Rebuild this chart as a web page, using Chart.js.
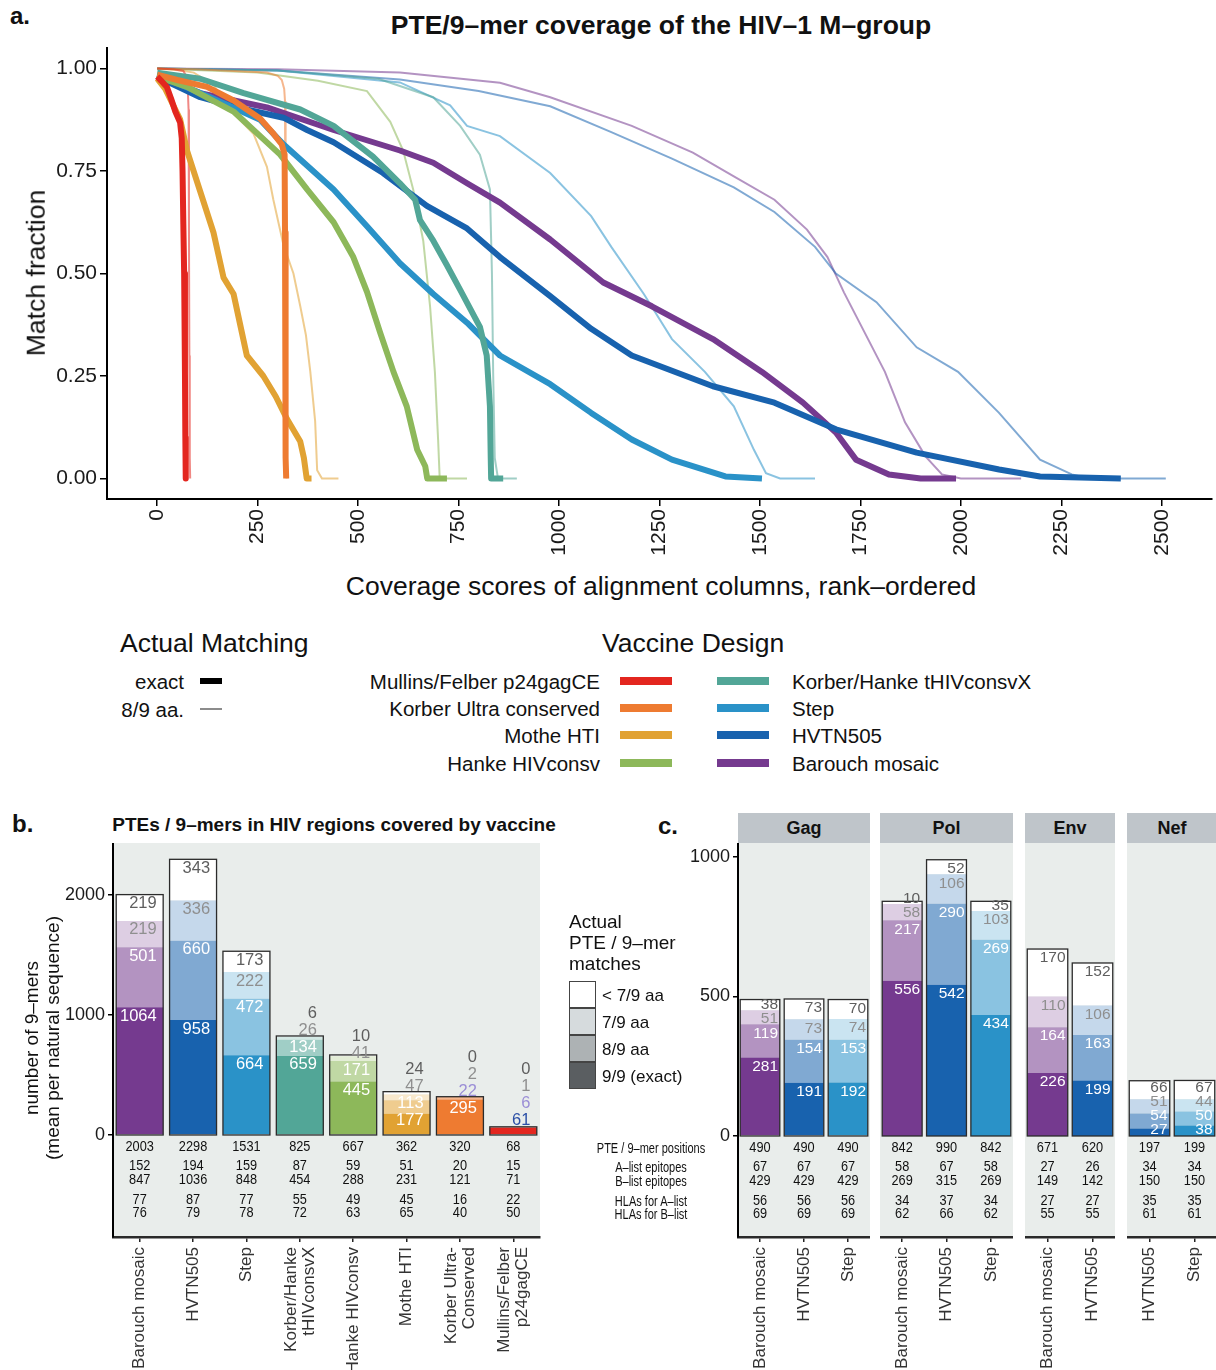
<!DOCTYPE html>
<html lang="en">
<head>
  <meta charset="UTF-8">
  <title>PTE/9-mer coverage of the HIV-1 M-group</title>
  <script src="https://cdn.jsdelivr.net/npm/chart.js"></script>
  <style>
    body {
      margin: 0;
      width: 1216px;
      height: 1370px;
      position: relative;
      overflow: hidden;
      background: #fff;
      color: #111;
      font-family: 'Liberation Sans', Arial, sans-serif;
    }
    canvas { position: absolute; }
    .txt { position: absolute; white-space: nowrap; line-height: 1; }
    .strip {
      position: absolute; top: 813px; height: 30px; background: #bfc5ca;
      font-weight: bold; font-size: 18px; display: flex; align-items: center; justify-content: center;
    }
    .swatch { position: absolute; }
  </style>
</head>
<body>
  <canvas id="chartA" width="1216" height="530" style="left:0;top:40px"></canvas>
  <canvas id="chartB" width="560" height="527" style="left:0;top:843px"></canvas>
  <canvas id="chartGag" width="310" height="527" style="left:560px;top:843px"></canvas>
  <canvas id="chartPol" width="133" height="527" style="left:880px;top:843px"></canvas>
  <canvas id="chartEnv" width="90" height="527" style="left:1025px;top:843px"></canvas>
  <canvas id="chartNef" width="90" height="527" style="left:1127px;top:843px"></canvas>

  <div class="strip" style="left:738px;width:132px">Gag</div>
  <div class="strip" style="left:880px;width:133px">Pol</div>
  <div class="strip" style="left:1025px;width:90px">Env</div>
  <div class="strip" style="left:1127px;width:90px">Nef</div>

  <script>
    // ---- panel a: coverage curves, [rank, match fraction] ----
    const coverageTicks = [0, 250, 500, 750, 1000, 1250, 1500, 1750, 2000, 2250, 2500];
    const matchTicks = [0, 0.25, 0.5, 0.75, 1];

    const mullinsExact = [[0,0.98],[10,0.97],[24,0.955],[35,0.925],[45,0.895],[57,0.868],[61,0.83],[63,0.75],[65,0.62],[67,0.5],[69,0.26],[70,0.1],[71,0]];
    const mullinsNear = [[0,1.0],[40,0.998],[65,0.994],[72,0.982],[76,0.95],[78,0.9],[79,0.6],[80,0.3],[81,0.05],[82,0]];
    const ultraExact = [[0,0.985],[50,0.972],[124,0.955],[190,0.922],[256,0.878],[290,0.84],[310,0.815],[317,0.79],[318,0.6],[319,0.3],[320,0.05],[321,0]];
    const ultraNear = [[0,1.0],[100,0.998],[190,0.994],[273,0.99],[300,0.982],[310,0.972],[316,0.95],[318,0.92],[319,0.7],[320,0.4],[321,0.1],[322,0]];
    const motheExact = [[0,0.975],[20,0.95],[45,0.9],[57,0.876],[74,0.8],[107,0.7],[140,0.6],[165,0.49],[190,0.45],[223,0.3],[264,0.25],[295,0.2],[323,0.145],[356,0.09],[365,0.05],[372,0],[384,0]];
    const motheNear = [[0,1.0],[60,0.995],[91,0.99],[140,0.96],[190,0.89],[240,0.84],[273,0.76],[289,0.68],[314,0.57],[339,0.5],[356,0.42],[370,0.35],[381,0.26],[393,0.14],[398,0.02],[410,0],[451,0]];
    const hankeExact = [[0,0.98],[74,0.955],[190,0.895],[306,0.79],[373,0.705],[439,0.625],[488,0.54],[522,0.455],[555,0.355],[588,0.26],[621,0.176],[647,0.07],[667,0.03],[672,0],[721,0]];
    const hankeNear = [[0,1.0],[250,0.99],[400,0.97],[522,0.945],[580,0.87],[612,0.8],[637,0.705],[662,0.58],[679,0.42],[691,0.26],[699,0.095],[703,0],[771,0]];
    const tconsvExact = [[0,0.99],[107,0.975],[215,0.94],[356,0.9],[439,0.86],[537,0.785],[604,0.72],[642,0.68],[654,0.63],[687,0.58],[721,0.52],[754,0.46],[803,0.37],[820,0.3],[828,0.176],[830,0.05],[831,0],[861,0]];
    const tconsvNear = [[0,1.0],[300,0.995],[550,0.975],[687,0.93],[754,0.86],[803,0.79],[828,0.705],[833,0.5],[836,0.26],[840,0.05],[848,0],[895,0]];
    const stepExact = [[0,0.985],[60,0.96],[132,0.93],[256,0.875],[314,0.815],[439,0.705],[522,0.615],[604,0.525],[687,0.45],[771,0.38],[853,0.3],[978,0.23],[1080,0.16],[1181,0.095],[1281,0.046],[1414,0.005],[1505,0]];
    const stepNear = [[0,1.0],[300,0.995],[604,0.966],[729,0.91],[771,0.86],[853,0.835],[978,0.745],[1080,0.64],[1130,0.565],[1211,0.45],[1281,0.34],[1363,0.26],[1435,0.176],[1485,0.07],[1515,0.013],[1550,0],[1637,0]];
    const hvtnExact = [[0,0.98],[107,0.93],[200,0.905],[314,0.88],[373,0.85],[439,0.82],[562,0.745],[671,0.665],[771,0.61],[853,0.54],[978,0.445],[1080,0.365],[1181,0.3],[1383,0.225],[1536,0.185],[1689,0.12],[1890,0.063],[2095,0.022],[2197,0.005],[2398,0]];
    const hvtnNear = [[0,1.0],[300,0.995],[604,0.973],[800,0.945],[978,0.908],[1130,0.845],[1281,0.78],[1435,0.71],[1536,0.65],[1637,0.565],[1689,0.5],[1790,0.43],[1890,0.32],[1993,0.26],[2095,0.16],[2197,0.046],[2276,0.01],[2320,0],[2510,0]];
    const barouchExact = [[0,0.98],[107,0.94],[273,0.905],[439,0.85],[604,0.8],[687,0.77],[771,0.72],[853,0.673],[978,0.583],[1110,0.478],[1231,0.42],[1383,0.34],[1505,0.26],[1607,0.185],[1689,0.112],[1739,0.046],[1821,0.01],[1900,0],[1988,0]];
    const barouchNear = [[0,1.0],[300,0.998],[604,0.99],[853,0.965],[978,0.93],[1181,0.86],[1333,0.795],[1435,0.737],[1536,0.68],[1617,0.607],[1668,0.54],[1709,0.454],[1769,0.34],[1811,0.26],[1861,0.137],[1912,0.054],[1953,0.01],[2000,0],[2150,0]];

    // ---- panel b: whole-vaccine counts ----
    const bVaccines = ['Barouch mosaic', 'HVTN505', 'Step', 'Korber/Hanke tHIVconsvX', 'Hanke HIVconsv', 'Mothe HTI', 'Korber Ultra conserved', 'Mullins/Felber p24gagCE'];
    const bLabels = [['Barouch mosaic'], ['HVTN505'], ['Step'], ['Korber/Hanke', 'tHIVconsvX'], ['Hanke HIVconsv'], ['Mothe HTI'], ['Korber Ultra-', 'Conserved'], ['Mullins/Felber', 'p24gagCE']];
    const bExact = [1064, 958, 664, 659, 445, 177, 295, 61];
    const bEight = [501, 660, 472, 134, 171, 113, 22, 6];
    const bSeven = [219, 336, 222, 26, 41, 47, 2, 1];
    const bBelow = [219, 343, 173, 6, 10, 24, 0, 0];
    const bPositions = [2003, 2298, 1531, 825, 667, 362, 320, 68];
    const bAList = [152, 194, 159, 87, 59, 51, 20, 15];
    const bBList = [847, 1036, 848, 454, 288, 231, 121, 71];
    const bHlaA = [77, 87, 77, 55, 49, 45, 16, 22];
    const bHlaB = [76, 79, 78, 72, 63, 65, 40, 50];
    const bTicks = [0, 1000, 2000];

    // ---- panel c: per gene ----
    const gagVaccines = ['Barouch mosaic', 'HVTN505', 'Step'];
    const gagExact = [281, 191, 192];
    const gagEight = [119, 154, 153];
    const gagSeven = [51, 73, 74];
    const gagBelow = [38, 73, 70];
    const gagRows = [[490, 490, 490], [67, 67, 67], [429, 429, 429], [56, 56, 56], [69, 69, 69]];

    const polVaccines = ['Barouch mosaic', 'HVTN505', 'Step'];
    const polExact = [556, 542, 434];
    const polEight = [217, 290, 269];
    const polSeven = [58, 106, 103];
    const polBelow = [10, 52, 35];
    const polRows = [[842, 990, 842], [58, 67, 58], [269, 315, 269], [34, 37, 34], [62, 66, 62]];

    const envVaccines = ['Barouch mosaic', 'HVTN505'];
    const envExact = [226, 199];
    const envEight = [164, 163];
    const envSeven = [110, 106];
    const envBelow = [170, 152];
    const envRows = [[671, 620], [27, 26], [149, 142], [27, 27], [55, 55]];

    const nefVaccines = ['HVTN505', 'Step'];
    const nefExact = [27, 38];
    const nefEight = [54, 50];
    const nefSeven = [51, 44];
    const nefBelow = [66, 67];
    const nefRows = [[197, 199], [34, 34], [150, 150], [35, 35], [61, 61]];
    const cTicks = [0, 500, 1000];

    const designColors = {
      'Mullins/Felber p24gagCE': '#e3261f',
      'Korber Ultra conserved': '#ee7b31',
      'Mothe HTI': '#e1a233',
      'Hanke HIVconsv': '#8db85a',
      'Korber/Hanke tHIVconsvX': '#52a697',
      'Step': '#2a92c8',
      'HVTN505': '#1862ae',
      'Barouch mosaic': '#753a8f'
    };

    const FONT = "'Liberation Sans', Arial, sans-serif";
    Chart.defaults.font.family = FONT;
    Chart.defaults.color = '#1a1a1a';

    function tint(hex, t) {
      const n = parseInt(hex.slice(1), 16);
      const f = c => Math.round(c + (255 - c) * t);
      return `rgb(${f(n >> 16)},${f((n >> 8) & 255)},${f(n & 255)})`;
    }
    function fade(hex, a) {
      const n = parseInt(hex.slice(1), 16);
      return `rgba(${n >> 16},${(n >> 8) & 255},${n & 255},${a})`;
    }

    // text helper for titles / legends
    function addText(str, x, y, opt = {}) {
      const d = document.createElement('div');
      d.className = 'txt';
      d.textContent = str;
      d.style.left = x + 'px';
      d.style.top = y + 'px';
      d.style.fontSize = (opt.size || 18) + 'px';
      if (opt.bold) d.style.fontWeight = 'bold';
      const tx = opt.align === 'right' ? '-100%' : opt.align === 'left' ? '0' : '-50%';
      let tf = `translate(${tx},-50%)`;
      if (opt.rotate) tf += ' rotate(-90deg)';
      if (opt.squeeze) tf += ` scaleX(${opt.squeeze})`;
      d.style.transform = tf;
      document.body.appendChild(d);
    }
    function addSwatch(x, y, w, h, color) {
      const d = document.createElement('div');
      d.className = 'swatch';
      Object.assign(d.style, { left: x + 'px', top: (y - h / 2) + 'px', width: w + 'px', height: h + 'px', background: color });
      document.body.appendChild(d);
      return d;
    }

    // ---- text of panel a ----
    addText('a.', 10, 16, { size: 24, bold: true, align: 'left' });
    addText('PTE/9–mer coverage of the HIV–1 M–group', 661, 25, { size: 26.5, bold: true });
    addText('Match fraction', 36, 273, { size: 26.5, rotate: true });
    addText('Coverage scores of alignment columns, rank–ordered', 661, 586, { size: 26.5 });

    addText('Actual Matching', 120, 643, { size: 26.5, align: 'left' });
    addText('exact', 184, 682, { size: 20.5, align: 'right' });
    addText('8/9 aa.', 184, 710, { size: 20.5, align: 'right' });
    addSwatch(200, 681, 22, 6, '#000');
    addSwatch(200, 709, 22, 2, '#8c8c8c');

    addText('Vaccine Design', 602, 643, { size: 26.5, align: 'left' });
    const legendLeft = ['Mullins/Felber p24gagCE', 'Korber Ultra conserved', 'Mothe HTI', 'Hanke HIVconsv'];
    const legendRight = ['Korber/Hanke tHIVconsvX', 'Step', 'HVTN505', 'Barouch mosaic'];
    const legendRows = [681, 708, 735, 763];
    legendLeft.forEach((name, i) => {
      addText(name, 600, legendRows[i] + 1, { size: 20.5, align: 'right' });
      addSwatch(620, legendRows[i], 52, 8, designColors[name]);
    });
    legendRight.forEach((name, i) => {
      addSwatch(717, legendRows[i], 52, 8, designColors[name]);
      addText(name, 792, legendRows[i] + 1, { size: 20.5, align: 'left' });
    });

    // ---- text of panels b and c ----
    addText('b.', 12, 824, { size: 24, bold: true, align: 'left' });
    addText('PTEs / 9–mers in HIV regions covered by vaccine', 334, 824, { size: 19, bold: true });
    addText('number of 9–mers', 31, 1038, { size: 19, rotate: true });
    addText('(mean per natural sequence)', 52, 1038, { size: 19, rotate: true });

    addText('c.', 658, 826, { size: 24, bold: true, align: 'left' });
    addText('Actual', 569, 921, { size: 19, align: 'left' });
    addText('PTE / 9–mer', 569, 942, { size: 19, align: 'left' });
    addText('matches', 569, 963, { size: 19, align: 'left' });
    const keyNames = ['< 7/9 aa', '7/9 aa', '8/9 aa', '9/9 (exact)'];
    const keyColors = ['#ffffff', '#d6dbdd', '#adb2b4', '#5a5e61'];
    keyNames.forEach((name, i) => {
      const sw = addSwatch(569, 994 + i * 27, 27, 27, keyColors[i]);
      sw.style.boxSizing = 'border-box';
      sw.style.border = '1px solid #444';
      addText(name, 602, 995 + i * 27, { size: 17, align: 'left' });
    });
    const rowNames = ['PTE / 9–mer positions', 'A–list epitopes', 'B–list epitopes', 'HLAs for A–list', 'HLAs for B–list'];
    const rowOffsets = [12, 31, 45, 65, 78];
    rowNames.forEach((name, i) => addText(name, 651, 1136 + rowOffsets[i], { size: 14.5, squeeze: 0.76 }));

    // ---- panel a chart ----
    const curveSets = [
      ['Mullins/Felber p24gagCE', mullinsExact, mullinsNear],
      ['Korber Ultra conserved', ultraExact, ultraNear],
      ['Mothe HTI', motheExact, motheNear],
      ['Hanke HIVconsv', hankeExact, hankeNear],
      ['Korber/Hanke tHIVconsvX', tconsvExact, tconsvNear],
      ['Step', stepExact, stepNear],
      ['HVTN505', hvtnExact, hvtnNear],
      ['Barouch mosaic', barouchExact, barouchNear]
    ];
    const toXY = pts => pts.map(([x, y]) => ({ x, y }));
    const lineSets = [];
    curveSets.forEach(([name, exact]) => lineSets.push({
      label: name + ' exact', data: toXY(exact), borderColor: designColors[name], borderWidth: 6,
      pointRadius: 0, tension: 0, borderJoinStyle: 'round'
    }));
    curveSets.forEach(([name, , near]) => lineSets.push({
      label: name + ' 8/9', data: toXY(near), borderColor: fade(designColors[name], 0.55), borderWidth: 2,
      pointRadius: 0, tension: 0
    }));

    const axisGrid = { drawOnChartArea: false, drawTicks: true, tickLength: 7, color: '#000', lineWidth: 1.5 };
    const axisBorder = { display: true, color: '#000', width: 2 };

    new Chart(document.getElementById('chartA'), {
      type: 'line',
      data: { datasets: lineSets },
      options: {
        responsive: false,
        animation: false,
        layout: { padding: { top: 8, right: 4, left: 0, bottom: 0 } },
        plugins: { legend: { display: false }, tooltip: { enabled: false } },
        scales: {
          x: {
            type: 'linear', min: -125, max: 2625,
            afterBuildTicks: s => { s.ticks = coverageTicks.map(v => ({ value: v })); },
            afterFit: s => { s.height = 71; s.paddingLeft = 0; s.paddingRight = 0; },
            ticks: { minRotation: 90, maxRotation: 90, autoSkip: false, font: { size: 21 }, padding: 3, callback: v => String(v) },
            grid: axisGrid, border: axisBorder
          },
          y: {
            min: -0.05, max: 1.05,
            afterBuildTicks: s => { s.ticks = matchTicks.map(v => ({ value: v })); },
            afterFit: s => { s.width = 107; s.paddingTop = 0; s.paddingBottom = 0; },
            ticks: { font: { size: 21 }, padding: 3, callback: v => v.toFixed(2) },
            grid: axisGrid, border: axisBorder
          }
        }
      }
    });

    // ---- shared bar panel plugin (background, outlines, labels, table, rotated names) ----
    const barPanel = {
      id: 'barPanel',
      beforeDraw(chart) {
        const { ctx, chartArea: a } = chart;
        ctx.save();
        ctx.fillStyle = '#e9edeb';
        ctx.fillRect(a.left, a.top, a.right - a.left, a.bottom - a.top);
        ctx.restore();
      },
      afterDraw(chart, args, o) {
        const { ctx, chartArea: a } = chart;
        const y = chart.scales.y;
        const sets = chart.data.datasets;
        const y0 = y.getPixelForValue(0);
        const bars = chart.getDatasetMeta(0).data;
        const labelColors = ['#ffffff', '#ffffff', '#8f8f8f', '#5e5e5e'];
        const outsideColors = ['#2b4fa6', '#9b8ed6', '#8f8f8f', '#5e5e5e'];
        ctx.save();
        bars.forEach((bar, i) => {
          let cum = 0;
          const tops = sets.map(ds => { cum += ds.data[i]; return y.getPixelForValue(cum); });
          const half = bar.width / 2;
          ctx.strokeStyle = '#2b2b2b';
          ctx.lineWidth = 1.3;
          ctx.strokeRect(bar.x - half, tops[3], 2 * half, y0 - tops[3]);

          ctx.font = `${o.labelSize}px ${FONT}`;
          ctx.textAlign = 'right';
          ctx.textBaseline = 'middle';
          let prev = 0;
          sets.forEach((ds, k) => {
            const cy = Math.min(tops[k] + 9, k === 0 ? y0 - o.clamp : prev - o.step);
            prev = cy;
            ctx.fillStyle = cy - 7 < tops[3] ? outsideColors[k] : labelColors[k];
            ctx.fillText(String(ds.data[i]), bar.x + o.nudge, cy);
          });

          // condensed table under each bar
          ctx.font = `14.5px ${FONT}`;
          ctx.textAlign = 'center';
          ctx.fillStyle = '#111';
          o.rows.forEach((row, r) => {
            ctx.save();
            ctx.translate(bar.x, y0 + rowOffsets[r]);
            ctx.scale(0.88, 1);
            ctx.fillText(String(row[i]), 0, 0);
            ctx.restore();
          });

          const lines = o.names[i];
          ctx.save();
          ctx.translate(bar.x, a.bottom + 10);
          ctx.rotate(-Math.PI / 2);
          ctx.font = `17px ${FONT}`;
          ctx.fillStyle = '#333';
          ctx.textAlign = 'right';
          lines.forEach((line, j) => ctx.fillText(line, 0, (j - (lines.length - 1) / 2) * 18));
          ctx.restore();
        });
        ctx.restore();
      }
    };

    function stackSets(colors, exact, eight, seven, below) {
      return [
        { label: '9/9 (exact)', data: exact, backgroundColor: colors },
        { label: '8/9 aa', data: eight, backgroundColor: colors.map(c => tint(c, 0.45)) },
        { label: '7/9 aa', data: seven, backgroundColor: colors.map(c => tint(c, 0.75)) },
        { label: '< 7/9 aa', data: below, backgroundColor: '#ffffff' }
      ];
    }

    function barChart(id, cfg) {
      const darkGrid = { drawOnChartArea: false, drawTicks: true, tickLength: 5, color: '#222', lineWidth: 1.5, offset: false };
      return new Chart(document.getElementById(id), {
        type: 'bar',
        data: { labels: cfg.vaccines, datasets: stackSets(cfg.vaccines.map(v => designColors[v]), ...cfg.values) },
        plugins: [barPanel],
        options: {
          responsive: false,
          animation: false,
          layout: { padding: { top: 0, left: 0, bottom: 0, right: cfg.padRight || 0 } },
          datasets: { bar: { categoryPercentage: 1, barPercentage: cfg.barPct } },
          plugins: {
            legend: { display: false }, tooltip: { enabled: false },
            barPanel: { rows: cfg.rows, names: cfg.names, labelSize: cfg.labelSize, step: cfg.step, clamp: cfg.clamp, nudge: cfg.nudge }
          },
          scales: {
            x: {
              stacked: true,
              ticks: { display: false },
              afterFit: s => { s.height = cfg.xHeight; s.paddingLeft = 0; s.paddingRight = 0; },
              grid: darkGrid,
              border: { display: true, color: '#2a2a2a', width: 2.5 }
            },
            y: {
              stacked: true, min: cfg.yMin, max: cfg.yMax, display: cfg.yWidth > 0,
              afterBuildTicks: s => { s.ticks = cfg.yTicks.map(v => ({ value: v })); },
              afterFit: s => { s.width = cfg.yWidth; s.paddingTop = 0; s.paddingBottom = 0; },
              ticks: { font: { size: 18 }, padding: 3, callback: v => String(v) },
              grid: { drawOnChartArea: false, drawTicks: true, tickLength: 5, color: '#000', lineWidth: 1.5 },
              border: { display: true, color: '#000', width: 2 }
            }
          }
        }
      });
    }

    barChart('chartB', {
      vaccines: bVaccines, names: bLabels,
      values: [bExact, bEight, bSeven, bBelow],
      rows: [bPositions, bAList, bBList, bHlaA, bHlaB],
      yMin: -850, yMax: 2433, yTicks: bTicks, yWidth: 113, xHeight: 133, padRight: 20,
      barPct: 0.88, labelSize: 16.5, step: 17, clamp: 15, nudge: 17
    });

    const facetBase = { yMin: -362, yMax: 1050, yTicks: cTicks, xHeight: 133, barPct: 0.9, labelSize: 15.5, step: 14, clamp: 6, nudge: 18 };
    barChart('chartGag', Object.assign({}, facetBase, {
      vaccines: gagVaccines, names: gagVaccines.map(v => [v]), values: [gagExact, gagEight, gagSeven, gagBelow], rows: gagRows, yWidth: 178
    }));
    barChart('chartPol', Object.assign({}, facetBase, {
      vaccines: polVaccines, names: polVaccines.map(v => [v]), values: [polExact, polEight, polSeven, polBelow], rows: polRows, yWidth: 0
    }));
    barChart('chartEnv', Object.assign({}, facetBase, {
      vaccines: envVaccines, names: envVaccines.map(v => [v]), values: [envExact, envEight, envSeven, envBelow], rows: envRows, yWidth: 0
    }));
    barChart('chartNef', Object.assign({}, facetBase, {
      vaccines: nefVaccines, names: nefVaccines.map(v => [v]), values: [nefExact, nefEight, nefSeven, nefBelow], rows: nefRows, yWidth: 0
    }));
  </script>
</body>
</html>
